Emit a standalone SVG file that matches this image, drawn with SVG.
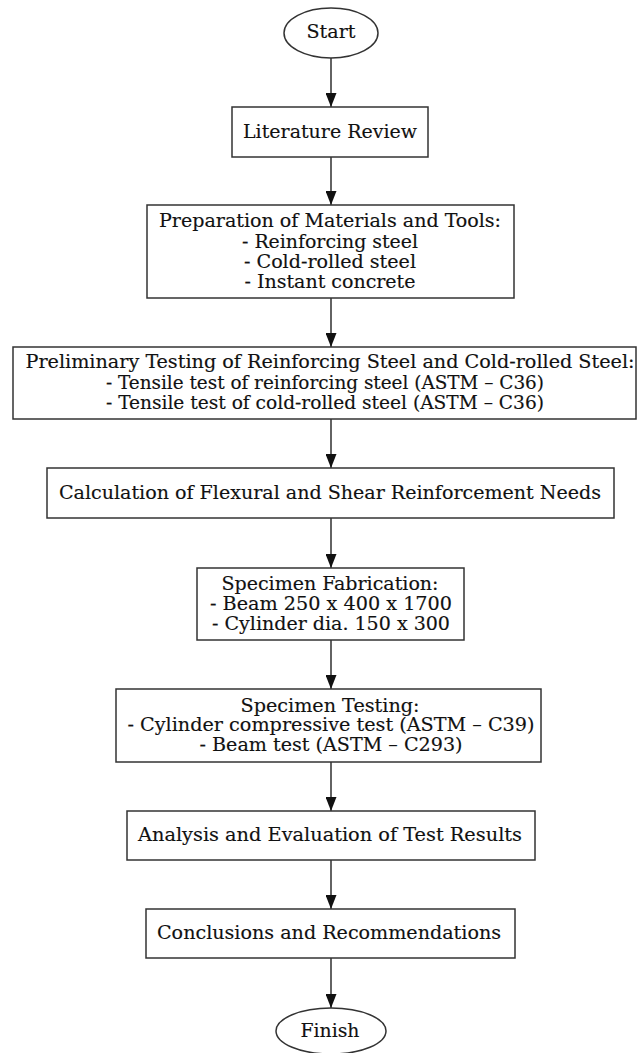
<svg xmlns="http://www.w3.org/2000/svg" width="638" height="1053" viewBox="0 0 638 1053">
<defs>
<marker id="ah" viewBox="0 0 14 11" refX="14" refY="5.5" markerWidth="14" markerHeight="11" orient="auto" markerUnits="userSpaceOnUse">
<path d="M0,0 L14,5.5 L0,11 z" fill="#111"/>
</marker>
</defs>
<style>
.n{fill:#fff;stroke:#333;stroke-width:1.5}
.t{font-family:"DejaVu Serif","Liberation Serif",serif;font-size:18px;fill:#111;text-anchor:middle;stroke:#111;stroke-width:0.15}
.c{font-family:"DejaVu Serif Condensed","DejaVu Serif","Liberation Serif",serif;font-stretch:condensed;font-size:19px;fill:#111;text-anchor:middle;stroke:#111;stroke-width:0.15}
.e{stroke:#222;stroke-width:1.4;fill:none;marker-end:url(#ah)}
</style>
<rect width="638" height="1053" fill="#fff"/>
<g id="connectors">
<line class="e" x1="331" y1="57" x2="331" y2="107"/>
<line class="e" x1="331" y1="157" x2="331" y2="205"/>
<line class="e" x1="331" y1="298" x2="331" y2="347"/>
<line class="e" x1="331" y1="419" x2="331" y2="468"/>
<line class="e" x1="331" y1="518" x2="331" y2="568"/>
<line class="e" x1="331" y1="640" x2="331" y2="689"/>
<line class="e" x1="331" y1="762" x2="331" y2="811"/>
<line class="e" x1="331" y1="860" x2="331" y2="909"/>
<line class="e" x1="331" y1="958" x2="331" y2="1008"/>
</g>
<g id="start">
<ellipse class="n" cx="331" cy="33" rx="47" ry="25"/>
<text class="t" x="331" y="38" textLength="49" lengthAdjust="spacingAndGlyphs">Start</text>
</g>
<g id="literature">
<rect class="n" x="232" y="107" width="196" height="50"/>
<text class="t" x="330" y="138" style="font-size:19px" textLength="174" lengthAdjust="spacingAndGlyphs">Literature Review</text>
</g>
<g id="preparation">
<rect class="n" x="147" y="205" width="367" height="93"/>
<text class="c" x="330" y="227" textLength="342" lengthAdjust="spacingAndGlyphs">Preparation of Materials and Tools:</text>
<text class="c" x="330" y="248" textLength="176" lengthAdjust="spacingAndGlyphs">- Reinforcing steel</text>
<text class="c" x="330" y="268" textLength="172" lengthAdjust="spacingAndGlyphs">- Cold-rolled steel</text>
<text class="c" x="330" y="288" textLength="171" lengthAdjust="spacingAndGlyphs">- Instant concrete</text>
</g>
<g id="preliminary">
<rect class="n" x="13" y="347" width="623" height="72"/>
<text class="c" x="330" y="368" textLength="609" lengthAdjust="spacingAndGlyphs">Preliminary Testing of Reinforcing Steel and Cold-rolled Steel:</text>
<text class="c" x="325" y="389" textLength="438" lengthAdjust="spacingAndGlyphs">- Tensile test of reinforcing steel (ASTM – C36)</text>
<text class="c" x="325" y="409" textLength="438" lengthAdjust="spacingAndGlyphs">- Tensile test of cold-rolled steel (ASTM – C36)</text>
</g>
<g id="calculation">
<rect class="n" x="47" y="468" width="567" height="50"/>
<text class="c" x="330" y="499" textLength="542" lengthAdjust="spacingAndGlyphs">Calculation of Flexural and Shear Reinforcement Needs</text>
</g>
<g id="fabrication">
<rect class="n" x="197" y="568" width="267" height="72"/>
<text class="c" x="330" y="590" textLength="217" lengthAdjust="spacingAndGlyphs">Specimen Fabrication:</text>
<text class="c" x="331" y="610" textLength="242" lengthAdjust="spacingAndGlyphs">- Beam 250 x 400 x 1700</text>
<text class="c" x="331" y="630" textLength="238" lengthAdjust="spacingAndGlyphs">- Cylinder dia. 150 x 300</text>
</g>
<g id="testing">
<rect class="n" x="116" y="689" width="425" height="73"/>
<text class="t" x="330" y="712" textLength="179" lengthAdjust="spacingAndGlyphs">Specimen Testing:</text>
<text class="t" x="331" y="731" textLength="407" lengthAdjust="spacingAndGlyphs">- Cylinder compressive test (ASTM – C39)</text>
<text class="t" x="331" y="751" textLength="263" lengthAdjust="spacingAndGlyphs">- Beam test (ASTM – C293)</text>
</g>
<g id="analysis">
<rect class="n" x="127" y="811" width="408" height="49"/>
<text class="t" x="330" y="841" textLength="384" lengthAdjust="spacingAndGlyphs">Analysis and Evaluation of Test Results</text>
</g>
<g id="conclusions">
<rect class="n" x="146" y="909" width="369" height="49"/>
<text class="t" x="329" y="939" textLength="344" lengthAdjust="spacingAndGlyphs">Conclusions and Recommendations</text>
</g>
<g id="finish">
<ellipse class="n" cx="331" cy="1031" rx="55" ry="23"/>
<text class="t" x="330" y="1037" textLength="59" lengthAdjust="spacingAndGlyphs">Finish</text>
</g>
</svg>
